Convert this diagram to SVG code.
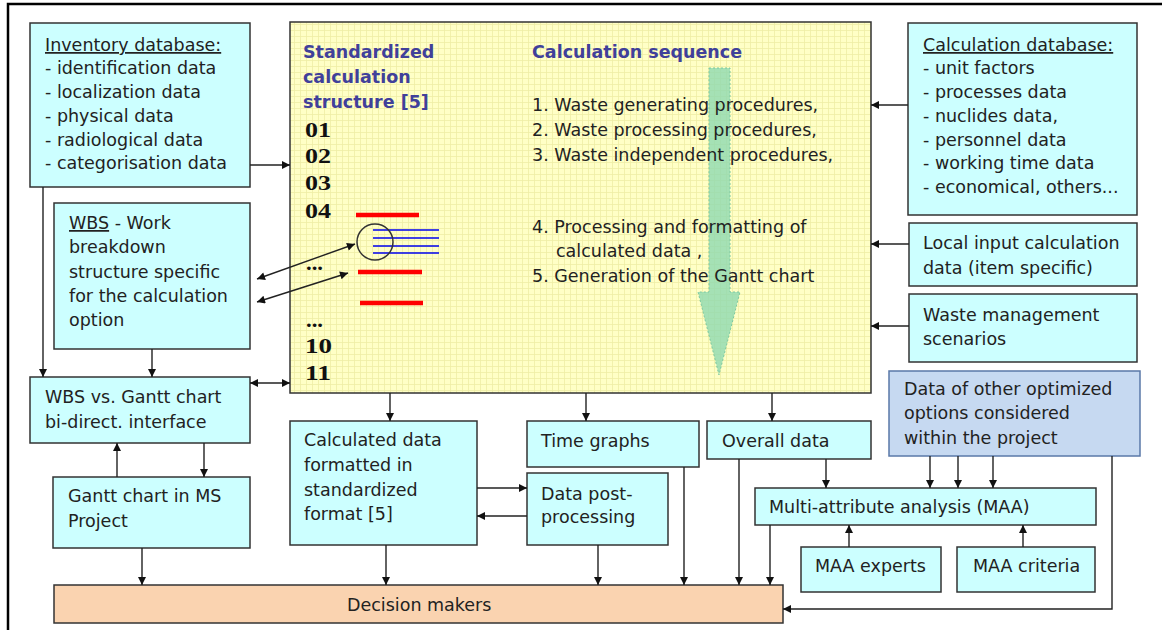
<svg xmlns="http://www.w3.org/2000/svg" width="1162" height="630" viewBox="0 0 1162 630">
<style>
.box{fill:#CCFFFF;stroke:#333;stroke-width:1.5}
.t{font-family:"DejaVu Sans",Verdana,sans-serif;font-size:17.5px;fill:#222}
.h{font-family:"DejaVu Sans",Verdana,sans-serif;font-size:17.5px;font-weight:bold;fill:#40409A}
.n{font-family:"Liberation Serif","Times New Roman",serif;font-size:21px;font-weight:bold;fill:#111}
.c{fill:none;stroke:#222;stroke-width:1.4}
.ca{fill:none;stroke:#222;stroke-width:1.4;marker-end:url(#arr)}
.cb{fill:none;stroke:#222;stroke-width:1.4;marker-end:url(#arr);marker-start:url(#arr)}
</style>
<defs>
<marker id="arr" viewBox="0 0 10 10" refX="10" refY="5" markerWidth="9" markerHeight="8" markerUnits="userSpaceOnUse" orient="auto-start-reverse">
<path d="M0,0 L10,5 L0,10 z" fill="#111"/>
</marker>
<pattern id="grid" width="6" height="6" patternUnits="userSpaceOnUse">
<rect width="6" height="6" fill="#FFFFC6"/>
<path d="M0,0.5 H6 M0.5,0 V6" stroke="#EFEDA6" stroke-width="0.8"/>
</pattern>
</defs>
<rect width="1162" height="630" fill="#fff"/>
<path d="M8,630 V4 H1162" fill="none" stroke="#000" stroke-width="2.5"/>

<g id="calc-structure">
<rect x="290" y="22" width="581" height="371" fill="url(#grid)" stroke="#333" stroke-width="1.5"/>
<polygon points="709,68 730,68 730,292 740,292 719,375 698,292 709,292" fill="#8FD9B0" fill-opacity="0.8" stroke="#7CC8A0" stroke-width="1" stroke-dasharray="2,2"/>
<text class="h" x="303" y="58">Standardized</text>
<text class="h" x="303" y="83">calculation</text>
<text class="h" x="303" y="108">structure [5]</text>
<text class="n" x="305" y="137" textLength="26" lengthAdjust="spacingAndGlyphs">01</text>
<text class="n" x="305" y="163" textLength="26" lengthAdjust="spacingAndGlyphs">02</text>
<text class="n" x="305" y="190" textLength="26" lengthAdjust="spacingAndGlyphs">03</text>
<text class="n" x="305" y="218" textLength="26" lengthAdjust="spacingAndGlyphs">04</text>
<text class="n" x="306" y="270" textLength="17" lengthAdjust="spacingAndGlyphs">...</text>
<text class="n" x="306" y="327" textLength="17" lengthAdjust="spacingAndGlyphs">...</text>
<text class="n" x="305" y="353" textLength="27" lengthAdjust="spacingAndGlyphs">10</text>
<text class="n" x="305" y="380" textLength="26" lengthAdjust="spacingAndGlyphs">11</text>
<text class="h" x="532" y="58">Calculation sequence</text>
<text class="t" x="532" y="111">1. Waste generating procedures,</text>
<text class="t" x="532" y="136">2. Waste processing procedures,</text>
<text class="t" x="532" y="161">3. Waste independent procedures,</text>
<text class="t" x="532" y="233">4. Processing and formatting of</text>
<text class="t" x="556" y="257">calculated data ,</text>
<text class="t" x="532" y="282">5. Generation of the Gantt chart</text>
<g stroke="#FF0000" stroke-width="4.5">
<line x1="356" y1="215" x2="419" y2="215"/>
<line x1="358" y1="272" x2="422" y2="272"/>
<line x1="360" y1="303" x2="423" y2="303"/>
</g>
<g stroke="#0000EE" stroke-width="1.3">
<line x1="373" y1="230" x2="439" y2="230"/>
<line x1="373" y1="238" x2="439" y2="238"/>
<line x1="373" y1="246" x2="439" y2="246"/>
<line x1="373" y1="253" x2="439" y2="253"/>
</g>
<circle cx="375" cy="242" r="18" fill="none" stroke="#333" stroke-width="1.5"/>
</g>

<g id="inventory">
<rect class="box" x="30" y="23" width="220" height="164"/>
<text class="t" x="45" y="51" text-decoration="underline">Inventory database:</text>
<text class="t" x="45" y="74">- identification data</text>
<text class="t" x="45" y="98">- localization data</text>
<text class="t" x="45" y="122">- physical data</text>
<text class="t" x="45" y="146">- radiological data</text>
<text class="t" x="45" y="169">- categorisation data</text>
</g>

<g id="wbs">
<rect class="box" x="54" y="203" width="196" height="146"/>
<text class="t" x="69" y="229"><tspan text-decoration="underline">WBS</tspan> - Work</text>
<text class="t" x="69" y="253">breakdown</text>
<text class="t" x="69" y="278">structure specific</text>
<text class="t" x="69" y="302">for the calculation</text>
<text class="t" x="69" y="326">option</text>
</g>

<g id="wbs-gantt">
<rect class="box" x="30" y="377" width="220" height="66"/>
<text class="t" x="45" y="403">WBS vs. Gantt chart</text>
<text class="t" x="45" y="428">bi-direct. interface</text>
</g>

<g id="gantt">
<rect class="box" x="53" y="477" width="197" height="71"/>
<text class="t" x="68" y="502">Gantt chart in MS</text>
<text class="t" x="68" y="527">Project</text>
</g>

<g id="calculated">
<rect class="box" x="290" y="421" width="187" height="124"/>
<text class="t" x="304" y="446">Calculated data</text>
<text class="t" x="304" y="471">formatted in</text>
<text class="t" x="304" y="496">standardized</text>
<text class="t" x="304" y="520">format [5]</text>
</g>

<g id="time-graphs">
<rect class="box" x="527" y="421" width="172" height="46"/>
<text class="t" x="541" y="447">Time graphs</text>
</g>

<g id="post-processing">
<rect class="box" x="527" y="473" width="141" height="72"/>
<text class="t" x="541" y="500">Data post-</text>
<text class="t" x="541" y="523">processing</text>
</g>

<g id="overall">
<rect class="box" x="707" y="421" width="164" height="38"/>
<text class="t" x="722" y="447">Overall data</text>
</g>

<g id="other-options">
<rect x="889" y="371" width="251" height="85" fill="#C6D9F1" stroke="#5A78A8" stroke-width="1.5"/>
<text class="t" x="904" y="395">Data of other optimized</text>
<text class="t" x="904" y="419">options considered</text>
<text class="t" x="904" y="444">within the project</text>
</g>

<g id="maa">
<rect class="box" x="755" y="488" width="341" height="37"/>
<text class="t" x="769" y="513">Multi-attribute analysis (MAA)</text>
</g>

<g id="maa-experts">
<rect class="box" x="801" y="547" width="140" height="45"/>
<text class="t" x="815" y="572">MAA experts</text>
</g>

<g id="maa-criteria">
<rect class="box" x="957" y="547" width="138" height="45"/>
<text class="t" x="973" y="572">MAA criteria</text>
</g>

<g id="calc-db">
<rect class="box" x="908" y="23" width="229" height="192"/>
<text class="t" x="923" y="51" text-decoration="underline">Calculation database:</text>
<text class="t" x="923" y="74">- unit factors</text>
<text class="t" x="923" y="98">- processes data</text>
<text class="t" x="923" y="122">- nuclides data,</text>
<text class="t" x="923" y="146">- personnel data</text>
<text class="t" x="923" y="169">- working time data</text>
<text class="t" x="923" y="193">- economical, others...</text>
</g>

<g id="local-input">
<rect class="box" x="909" y="223" width="228" height="63"/>
<text class="t" x="923" y="249">Local input calculation</text>
<text class="t" x="923" y="274">data (item specific)</text>
</g>

<g id="waste-mgmt">
<rect class="box" x="909" y="294" width="228" height="68"/>
<text class="t" x="923" y="321">Waste management</text>
<text class="t" x="923" y="345">scenarios</text>
</g>

<g id="decision">
<rect x="54" y="585" width="729" height="38" fill="#FAD3B0" stroke="#333" stroke-width="1.5"/>
<text class="t" x="347" y="611">Decision makers</text>
</g>

<g id="connectors">
<path class="ca" d="M250,165 H290"/>
<path class="ca" d="M908,105 H871"/>
<path class="ca" d="M909,244 H871"/>
<path class="ca" d="M909,326 H871"/>
<path class="cb" d="M257,279 L355,244"/>
<path class="cb" d="M257,302 L348,273"/>
<path class="ca" d="M43,187 V377"/>
<path class="ca" d="M152,349 V377"/>
<path class="cb" d="M250,383 H290"/>
<path class="ca" d="M117,477 V443"/>
<path class="ca" d="M204,443 V477"/>
<path class="ca" d="M142,548 V585"/>
<path class="ca" d="M390,393 V421"/>
<path class="ca" d="M586,393 V421"/>
<path class="ca" d="M772,393 V421"/>
<path class="ca" d="M386,545 V585"/>
<path class="ca" d="M477,488 H527"/>
<path class="ca" d="M527,516 H477"/>
<path class="ca" d="M598,545 V585"/>
<path class="ca" d="M684,467 V585"/>
<path class="ca" d="M739,459 V585"/>
<path class="ca" d="M770,525 V585"/>
<path class="ca" d="M826,459 V488"/>
<path class="ca" d="M930,456 V488"/>
<path class="ca" d="M958,456 V488"/>
<path class="ca" d="M993,456 V488"/>
<path class="ca" d="M849,547 V525"/>
<path class="ca" d="M1023,547 V525"/>
<path class="ca" d="M1112,456 V609 H783"/>
</g>
</svg>
